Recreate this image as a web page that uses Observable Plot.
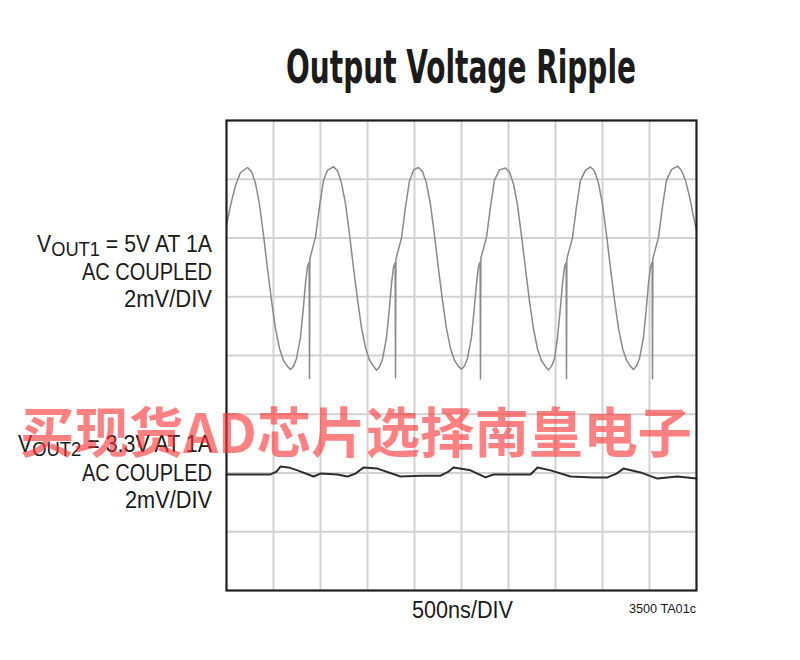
<!DOCTYPE html>
<html>
<head>
<meta charset="utf-8">
<script src="https://cdn.jsdelivr.net/npm/d3@7"></script>
<script src="https://cdn.jsdelivr.net/npm/@observablehq/plot@0.6"></script>
<style>
  html, body { margin: 0; padding: 0; background: #fff; }
  #wrap { position: relative; width: 800px; height: 660px; overflow: hidden; background: #fff; }
  #wrap svg { position: absolute; left: 0; top: 0; }
  .lbl { position: absolute; white-space: nowrap; color: #1b1b1b; line-height: 1;
         font-family: "Liberation Sans Narrow", "Liberation Sans", Arial, sans-serif; }
  .title { font-family: "Liberation Sans Narrow", "DejaVu Sans Condensed", "DejaVu Sans", sans-serif;
           font-weight: bold; font-size: 46px; color: #1b1b1b; }
  .side { font-size: 23px; }
  .sub { font-size: 0.86em; position: relative; top: 0.2em; }
  .wm { position: absolute; white-space: nowrap; line-height: 1; z-index: 5;
        font-family: "Noto Sans CJK SC", sans-serif; font-weight: bold; font-size: 54px;
        color: rgba(255, 45, 45, 0.6); }
</style>
</head>
<body>
<div id="wrap"></div>
<script>
// ---- Data ----
// Time axis: 500 ns/DIV, 10 divisions; Voltage: 2 mV/DIV, 8 divisions (AC coupled, offsets as displayed)
const timeTicks = [0, 500, 1000, 1500, 2000, 2500, 3000, 3500, 4000, 4500, 5000];
const voltTicks = [-8, -6, -4, -2, 0, 2, 4, 6, 8];

// VOUT1 trace (ns, mV)
const vout1Time = [
  0, 43, 96, 149,
  223, 266, 309, 351, 394, 436, 479, 521, 564, 606, 649, 681, 713, 745, 787, 819, 840, 862, 879, 883, 887, 915, 947, 989, 1032, 1074,
  1138, 1181, 1223, 1266, 1309, 1351, 1394, 1436, 1479, 1521, 1564, 1596, 1628, 1660, 1702, 1734, 1755, 1777, 1794, 1798, 1802, 1830, 1862, 1904, 1947, 1989,
  2043, 2085, 2128, 2170, 2213, 2255, 2298, 2340, 2383, 2426, 2468, 2500, 2532, 2564, 2606, 2638, 2660, 2681, 2698, 2702, 2706, 2734, 2766, 2809, 2851, 2904,
  2968, 3011, 3053, 3096, 3138, 3181, 3223, 3266, 3309, 3351, 3394, 3426, 3457, 3489, 3521, 3553, 3574, 3596, 3613, 3617, 3621, 3649, 3681, 3723, 3766, 3819,
  3872, 3915, 3957, 4000, 4043, 4085, 4128, 4170, 4213, 4255, 4298, 4330, 4362, 4394, 4436, 4468, 4489, 4511, 4528, 4532, 4536, 4564, 4596, 4638, 4681, 4734,
  4798, 4840, 4883, 4926, 4968, 5000
];
const vout1mV = [
  4.43, 5.11, 5.79, 6.23,
  6.40, 6.26, 5.86, 5.14, 4.09, 2.96, 1.87, 0.92, 0.24, -0.17, -0.37, -0.48, -0.37, -0.10, 0.61, 1.67, 2.45, 3.03, 3.17, -0.78, 3.30, 3.64, 4.02, 5.07, 5.96, 6.30,
  6.43, 6.28, 5.88, 5.17, 4.12, 2.98, 1.90, 0.95, 0.26, -0.15, -0.36, -0.50, -0.38, -0.12, 0.60, 1.65, 2.43, 3.01, 3.15, -0.76, 3.28, 3.62, 4.00, 5.05, 5.95, 6.31,
  6.40, 6.26, 5.86, 5.14, 4.09, 2.96, 1.87, 0.92, 0.24, -0.17, -0.37, -0.47, -0.36, -0.09, 0.62, 1.68, 2.46, 3.04, 3.18, -0.80, 3.31, 3.65, 4.03, 5.08, 5.97, 6.32,
  6.38, 6.24, 5.84, 5.12, 4.08, 2.95, 1.86, 0.91, 0.22, -0.18, -0.38, -0.49, -0.37, -0.11, 0.60, 1.66, 2.44, 3.02, 3.16, -0.78, 3.29, 3.63, 4.01, 5.06, 5.96, 6.30,
  6.42, 6.28, 5.87, 5.15, 4.10, 2.97, 1.88, 0.93, 0.25, -0.16, -0.37, -0.48, -0.36, -0.10, 0.61, 1.67, 2.45, 3.03, 3.17, -0.79, 3.30, 3.64, 4.02, 5.07, 5.97, 6.33,
  6.45, 6.30, 5.96, 5.41, 4.73, 4.26
];

// VOUT2 trace (ns, mV)
const vout2Time = [0, 255, 468, 532, 574, 660, 755, 926, 1000, 1181, 1287, 1372, 1457, 1606, 1851, 2064, 2277, 2362, 2415, 2596, 2755, 2840, 3234, 3309, 3447, 3660, 3904, 4053, 4149, 4223, 4404, 4585, 4798, 5000];
const vout2mV   = [-4.05, -4.05, -4.05, -3.95, -3.78, -3.81, -3.91, -4.12, -4.02, -4.05, -4.12, -4.02, -3.81, -3.85, -4.12, -4.09, -4.09, -3.95, -3.81, -3.91, -4.15, -4.05, -4.05, -3.81, -3.91, -4.12, -4.15, -4.15, -4.02, -3.85, -3.98, -4.19, -4.12, -4.19];

const trace1 = vout1Time.map((t, i) => ({t, v: vout1mV[i]}));
const trace2 = vout2Time.map((t, i) => ({t, v: vout2mV[i]}));

const chart = Plot.plot({
  width: 800,
  height: 660,
  marginLeft: 226,
  marginRight: 104,
  marginTop: 120,
  marginBottom: 70,
  x: {domain: [0, 5000], axis: null},
  y: {domain: [-8, 8], axis: null},
  style: {background: "transparent"},
  marks: [
    Plot.ruleX(timeTicks.slice(1, -1), {stroke: "#d2d2d2", strokeWidth: 2, strokeOpacity: 1}),
    Plot.ruleY(voltTicks.slice(1, -1), {stroke: "#d2d2d2", strokeWidth: 2, strokeOpacity: 1}),
    Plot.line(trace1, {x: "t", y: "v", stroke: "#8a8a8a", strokeWidth: 1.5}),
    Plot.line(trace2, {x: "t", y: "v", stroke: "#2e2e2e", strokeWidth: 2}),
    Plot.frame({stroke: "#1f1f1f", strokeWidth: 2.2})
  ]
});
const wrap = document.getElementById("wrap");
wrap.appendChild(chart);

// ---- Text ----
const labels = [
  {html: "Output Voltage Ripple", cls: "lbl title", x: 461, y: 83, anchor: "middle", width: 350},
  {html: "V<span class='sub'>OUT1</span> = 5V AT 1A", cls: "lbl side", x: 212, y: 252, anchor: "end", width: 175},
  {html: "AC COUPLED", cls: "lbl side", x: 212, y: 280, anchor: "end", width: 130},
  {html: "2mV/DIV", cls: "lbl side", x: 212, y: 307, anchor: "end", width: 88},
  {html: "V<span class='sub'>OUT2</span> = 3.3V AT 1A", cls: "lbl side", x: 212, y: 452, anchor: "end", width: 194},
  {html: "AC COUPLED", cls: "lbl side", x: 212, y: 481, anchor: "end", width: 130},
  {html: "2mV/DIV", cls: "lbl side", x: 212, y: 508, anchor: "end", width: 87},
  {html: "500ns/DIV", cls: "lbl side", x: 462, y: 618, anchor: "middle", width: 101},
  {html: "3500 TA01c", cls: "lbl", style: "font-size:13.5px", x: 696, y: 613, anchor: "end", width: 67},
  {html: "买现货AD芯片选择南皇电子", cls: "wm", x: 20, y: 453, anchor: "start", width: 672}
];

function place(spec) {
  const el = document.createElement("div");
  el.className = spec.cls;
  if (spec.style) el.style.cssText += spec.style;
  el.innerHTML = spec.html;
  const mark = document.createElement("span");
  mark.style.cssText = "display:inline-block;width:0;height:0;";
  el.appendChild(mark);
  el.style.left = "0px"; el.style.top = "0px";
  wrap.appendChild(el);
  const r = el.getBoundingClientRect();
  const m = mark.getBoundingClientRect();
  const base = m.bottom - r.top;
  const w = r.width;
  const s = spec.width ? spec.width / w : 1;
  const left = spec.anchor === "end" ? spec.x - w * s : spec.anchor === "middle" ? spec.x - w * s / 2 : spec.x;
  el.style.transformOrigin = "0 0";
  el.style.transform = `scaleX(${s})`;
  el.style.left = left + "px";
  el.style.top = (spec.y - base) + "px";
}
function layout() { labels.forEach(place); }
if (document.fonts && document.fonts.ready) document.fonts.ready.then(layout); else layout();
</script>
</body>
</html>
